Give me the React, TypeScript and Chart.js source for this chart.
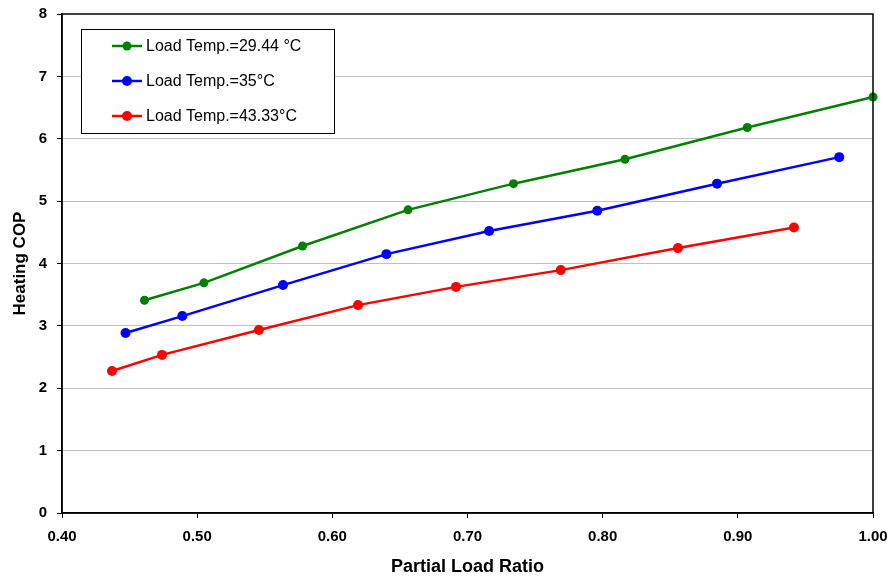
import React, { useEffect, useRef } from "react";
import { Chart, registerables } from "chart.js";

Chart.register(...registerables);

const seriesNames = ["Load Temp.=29.44 °C", "Load Temp.=35°C", "Load Temp.=43.33°C"];
const seriesColors = ["#008000", "#0000FF", "#FF0000"];

const greenX = [0.461, 0.505, 0.578, 0.656, 0.734, 0.8165, 0.907, 1.0];
const greenY = [3.41, 3.69, 4.28, 4.86, 5.28, 5.67, 6.18, 6.67];

const blueX = [0.447, 0.489, 0.5635, 0.64, 0.716, 0.796, 0.8846, 0.975];
const blueY = [2.885, 3.157, 3.654, 4.15, 4.52, 4.846, 5.28, 5.705];

const redX = [0.437, 0.474, 0.5457, 0.619, 0.6915, 0.769, 0.8557, 0.9415];
const redY = [2.276, 2.535, 2.933, 3.333, 3.625, 3.894, 4.247, 4.577];

const xTitle = "Partial Load Ratio";
const yTitle = "Heating COP";

const FONT = "'Liberation Sans', Arial, sans-serif";

const toPoints = (xs: number[], ys: number[]) => xs.map((x, i) => ({ x, y: ys[i] }));

export default function App() {
  const ref = useRef<HTMLCanvasElement>(null);

  useEffect(() => {
    document.body.style.margin = "0";
    const ctx = ref.current!.getContext("2d")!;
    const seriesData = [toPoints(greenX, greenY), toPoints(blueX, blueY), toPoints(redX, redY)];

    const framePlugin = {
      id: "frame",
      afterDraw(chart: any) {
        const { ctx, chartArea } = chart;
        ctx.save();
        ctx.strokeStyle = "#000";
        ctx.lineWidth = 1.5;
        ctx.strokeRect(chartArea.left, chartArea.top, chartArea.right - chartArea.left, chartArea.bottom - chartArea.top);
        // legend box
        const bx = 81.5, by = 29.5, bw = 253, bh = 104;
        ctx.fillStyle = "#fff";
        ctx.fillRect(bx, by, bw, bh);
        ctx.lineWidth = 1;
        ctx.strokeRect(bx, by, bw, bh);
        const rows = [46, 81, 116];
        ctx.font = `16px ${FONT}`;
        ctx.textBaseline = "middle";
        seriesNames.forEach((name, i) => {
          const y = rows[i];
          ctx.strokeStyle = seriesColors[i];
          ctx.lineWidth = 2.5;
          ctx.beginPath();
          ctx.moveTo(112, y);
          ctx.lineTo(142, y);
          ctx.stroke();
          ctx.fillStyle = seriesColors[i];
          ctx.beginPath();
          ctx.arc(127, y, i === 0 ? 4.5 : 5, 0, Math.PI * 2);
          ctx.fill();
          ctx.fillStyle = "#000";
          ctx.fillText(name, 146, y + 1);
        });
        ctx.restore();
      },
    };

    const chart = new Chart(ctx, {
      type: "line",
      data: {
        datasets: seriesData.map((d, i) => ({
          label: seriesNames[i],
          data: d,
          borderColor: seriesColors[i],
          backgroundColor: seriesColors[i],
          borderWidth: 2.5,
          pointRadius: i === 0 ? 4.5 : 5,
          pointBorderWidth: 0,
          pointBackgroundColor: seriesColors[i],
          fill: false,
          tension: 0,
          clip: 8,
        })),
      },
      options: {
        animation: false,
        responsive: false,
        maintainAspectRatio: false,
        layout: { padding: { left: 0, right: 18, top: 14, bottom: 0 }, autoPadding: false },
        plugins: { legend: { display: false }, tooltip: { enabled: false } },
        scales: {
          x: {
            type: "linear",
            min: 0.4,
            max: 1.0,
            afterFit: (s: any) => {
              s.height = 68;
              s.paddingLeft = 0;
              s.paddingRight = 0;
            },
            ticks: {
              stepSize: 0.1,
              callback: (v: any) => Number(v).toFixed(2),
              color: "#000",
              font: { family: FONT, size: 15, weight: "bold" },
              padding: 10,
              maxRotation: 0,
            },
            grid: { drawOnChartArea: false, tickLength: 5, color: "#000" },
            border: { color: "#000", width: 1.5 },
            title: {
              display: true,
              text: xTitle,
              color: "#000",
              font: { family: FONT, size: 18, weight: "bold" },
              padding: { top: 6, bottom: 3 },
            },
          },
          y: {
            min: 0,
            max: 8,
            afterFit: (s: any) => {
              s.width = 62;
              s.paddingTop = 0;
              s.paddingBottom = 0;
            },
            ticks: {
              stepSize: 1,
              color: "#000",
              font: { family: FONT, size: 15, weight: "bold" },
              padding: 10,
            },
            grid: {
              color: (c: any) => (c.tick && (c.tick.value === 0 || c.tick.value === 8) ? "rgba(0,0,0,0)" : "#808080"),
              tickColor: "#000",
              tickLength: 5,
              tickBorderDash: [],
            },
            border: { color: "#000", width: 1.5, dash: [1, 1] },
            title: {
              display: true,
              text: yTitle,
              color: "#000",
              font: { family: FONT, size: 17, weight: "bold" },
              padding: { top: 10, bottom: 0 },
            },
          },
        },
      },
      plugins: [framePlugin],
    } as any);

    return () => chart.destroy();
  }, []);

  return (
    <div style={{ width: 891, height: 581 }}>
      <canvas ref={ref} width={891} height={581} style={{ display: "block" }} />
    </div>
  );
}
